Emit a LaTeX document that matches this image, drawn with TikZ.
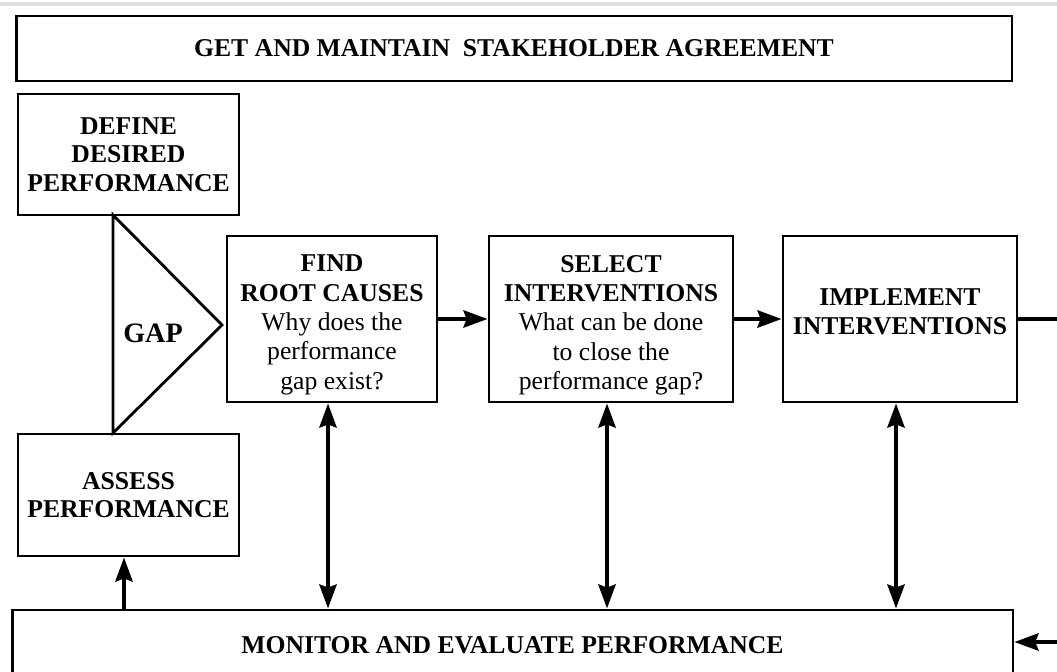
\documentclass[tikz,border=0pt]{standalone}
\usepackage{fontspec}
\setmainfont{Liberation Serif}
\usetikzlibrary{arrows.meta}

\tikzset{pointer/.tip={Stealth[length=4.8mm,width=3.4mm,inset=0.6mm]}}

\begin{document}
\begin{tikzpicture}[x=0.02cm,y=-0.02cm,
    box/.style={draw=black,line width=1.6pt,align=center,inner sep=0pt,
        font=\fontsize{14.6}{16.3}\selectfont},
    caption/.style={align=center,inner sep=0pt,font=\fontsize{14.6}{16.7}\selectfont},
    flow/.style={line width=2.5pt,-pointer},
    both/.style={line width=2.5pt,pointer-pointer}]
    \useasboundingbox (0,0) rectangle (1057,672);
    \clip (0,0) rectangle (1057,672);
    \draw[black!12,line width=2pt] (0,4) -- (1057,4);

    % top bar
    \node[box,minimum width=19.92cm,minimum height=1.3cm] (agree) at (514,48.5)
        {\textbf{GET AND MAINTAIN\ \ STAKEHOLDER AGREEMENT}};

    % left column: desired, gap, actual
    \node[box,minimum width=4.42cm,minimum height=2.42cm] (define) at (128.5,154.5)
        {\textbf{DEFINE}\\\textbf{DESIRED}\\\textbf{PERFORMANCE}};
    \node[box,minimum width=4.42cm,minimum height=2.44cm] (assess) at (128.5,495)
        {\textbf{ASSESS}\\\textbf{PERFORMANCE}};
    \coordinate (gaptop) at (113,215);
    \coordinate (gapbot) at (113,433);
    \coordinate (gaptip) at (222,325);
    \draw[line width=1.6pt,line join=miter] (gaptop) -- (gaptip) -- (gapbot) -- cycle;
    \node[font=\bfseries\fontsize{16}{18}\selectfont] (gap) at (153,333) {GAP};

    % the three steps (text sits a bit off centre)
    \node[box,minimum width=4.2cm,minimum height=3.32cm,
        label={[caption,yshift=-0.12cm]center:{\textbf{FIND}\\\textbf{ROOT CAUSES}\\Why does the\\performance\\gap exist?}}]
        (find) at (332,319) {};
    \node[box,minimum width=4.88cm,minimum height=3.32cm,
        label={[caption,yshift=-0.12cm]center:{\textbf{SELECT}\\\textbf{INTERVENTIONS}\\What can be done\\to close the\\performance gap?}}]
        (select) at (611,319) {};
    \node[box,minimum width=4.68cm,minimum height=3.32cm,
        label={[caption,yshift=0.14cm]center:{\textbf{IMPLEMENT}\\\textbf{INTERVENTIONS}}}]
        (implement) at (900,319) {};

    % bottom bar, runs off the page
    \node[box,minimum width=20.02cm,minimum height=1.4cm] (monitor) at (512.5,645)
        {\textbf{MONITOR AND EVALUATE PERFORMANCE}};

    % connectors
    \draw[flow] (find) -- (select);
    \draw[flow] (select) -- (implement);
    \coordinate (outright) at (1075,319);
    \coordinate (inright) at (1075,642);
    \draw[line width=2.5pt] (implement.east) -- (outright);
    \draw[flow] (inright) -- (inright -| monitor.east);
    \foreach \n in {find,select,implement}{
        \path ([xshift=-0.08cm]\n.south) coordinate (\n-foot);
        \draw[both] (\n-foot) -- (\n-foot |- monitor.north);
    }
    \path ([xshift=-0.09cm]assess.south) coordinate (assess-foot);
    \draw[flow] (assess-foot |- monitor.north) -- (assess-foot);
\end{tikzpicture}
\end{document}
